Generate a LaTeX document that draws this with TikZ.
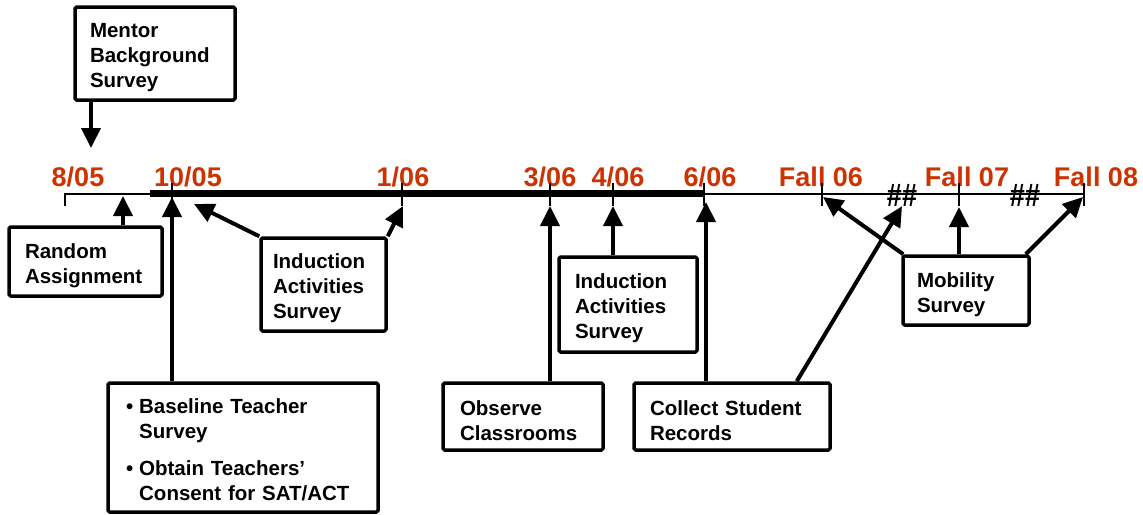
\documentclass[tikz,border=0pt]{standalone}
\usepackage{fontspec}
\setmainfont{Liberation Sans}
\usetikzlibrary{arrows.meta}
\definecolor{datered}{RGB}{204,51,0}
\newcommand\boxfont{\fontsize{20.5}{25}\selectfont\bfseries}
\newcommand\datefont{\fontsize{27}{30}\selectfont\bfseries}
\tikzset{
	box/.style={draw, line width=3.5pt, rounded corners=1.5pt, align=left, inner ysep=0pt, font=\boxfont,
		execute at begin node={\rule{0pt}{23pt}}},
	arr/.style={line width=4pt, -{Triangle[length=20pt,width=19pt]}},
	date/.style={text=datered, font=\datefont, anchor=base, inner sep=0pt},
	hashmark/.style={font=\fontsize{27}{30}\selectfont\bfseries, inner sep=0pt},
	tick/.style={line width=1.3pt}
}
\begin{document}
\begin{tikzpicture}[x=1pt, y=-1pt, line join=round]
	\useasboundingbox (0,0) rectangle (1143,514);
	% time line
	\draw[line width=1.5pt] (64,194) -- (1084,194);
	\draw[line width=7pt] (150,193.5) -- (704,193.5);
	\foreach \x/\lbl [count=\i] in {78/{8/05},188/{10/05},403/{1/06},550/{3/06},618/{4/06},710/{6/06},821/{Fall 06},967/{Fall 07},1096/{Fall 08}}
		\node[date] (d\i) at (\x,186) {\lbl};
	\draw[tick] (65,194) -- (65,206);
	\foreach \x in {172,402,550,613,704,822,959,1084} \draw[tick] (\x,183) -- (\x,206);
	\node[hashmark] (h1) at (902,195) {\scalebox{1}[1.2]{\#\#}};
	\node[hashmark] (h2) at (1025,195) {\scalebox{1}[1.2]{\#\#}};
	% boxes
	\node[box, text width=130pt, inner xsep=15pt, minimum height=93pt] (mentor) at (155,53.5) {Mentor\\Background\\Survey};
	\node[box, text width=121pt, inner xsep=16pt, minimum height=69pt] (rand) at (85.5,261.5) {Random\\Assignment};
	\node[box, text width=101pt, inner xsep=12pt, minimum height=93pt] (ind1) at (323.5,284.5) {Induction\\Activities\\Survey};
	\node[box, text width=234pt, inner xsep=18pt, minimum height=129pt] (base) at (243,447.5)
		{\raisebox{-4pt}[\height][\depth]{\begin{tabular}{@{}l@{\hspace{6pt}}l@{}}
			\textbullet & Baseline Teacher\\
			& Survey\\[12pt]
			\textbullet & Obtain Teachers’\\
			& Consent for SAT/ACT
		\end{tabular}}};
	\node[box, text width=126pt, inner xsep=17pt, minimum height=67pt] (obs) at (523,416.5) {Observe\\Classrooms};
	\node[box, text width=106pt, inner xsep=16pt, minimum height=95pt] (ind2) at (628,304.5) {Induction\\Activities\\Survey};
	\node[box, text width=164pt, inner xsep=16pt, minimum height=67pt] (collect) at (732,416.5) {Collect Student\\Records};
	\node[box, text width=98pt, inner xsep=14pt, minimum height=69pt] (mob) at (966,290.5) {Mobility\\Survey};
	% arrow tips
	\coordinate (mtip) at (91,148);
	\coordinate (rtip) at (123,196);
	\coordinate (btip) at (172,197);
	\coordinate (i1a) at (194,204);
	\coordinate (i1b) at (403,206);
	\coordinate (otip) at (550,206);
	\coordinate (i2tip) at (613,206);
	\coordinate (ctip) at (706,202);
	\coordinate (mba) at (823,197);
	\coordinate (mbb) at (959,207);
	\coordinate (mbc) at (1083,197);
	% arrows
	\draw[arr] (mentor.south -| mtip) -- (mtip);
	\draw[arr] (rand.north -| rtip) -- (rtip);
	\draw[arr] (base.north -| btip) -- (btip);
	\draw[arr] (ind1.north west) -- (i1a);
	\draw[arr] (ind1.north east) -- (i1b);
	\draw[arr] (obs.north -| otip) -- (otip);
	\draw[arr] (ind2.north -| i2tip) -- (i2tip);
	\draw[arr] (collect.north -| ctip) -- (ctip);
	\draw[arr] ([xshift=-35pt]collect.north east) -- (h1.south);
	\draw[arr] ([xshift=2pt]mob.north west) -- (mba);
	\draw[arr] (mob.north -| mbb) -- (mbb);
	\draw[arr] ([xshift=-5pt]mob.north east) -- (mbc);
\end{tikzpicture}
\end{document}
